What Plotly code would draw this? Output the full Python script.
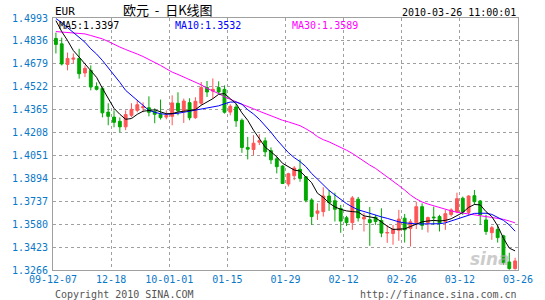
import plotly.graph_objects as go

# ---- data (EUR daily K-line, 2009-12-07 .. 2010-03-26, 80 trading days) ----
opens = [1.4853, 1.4816, 1.4675, 1.4711, 1.4716, 1.4616, 1.4634, 1.4524, 1.4511, 1.4348,
         1.4314, 1.4285, 1.4247, 1.4326, 1.4360, 1.4378, 1.4378, 1.4353, 1.4333, 1.4314,
         1.4319, 1.4409, 1.4357, 1.4413, 1.4310, 1.4409, 1.4516, 1.4492, 1.4516, 1.4504,
         1.4348, 1.4383, 1.4292, 1.4106, 1.4092, 1.4142, 1.4151, 1.4084, 1.4028, 1.3978,
         1.3855, 1.3912, 1.3956, 1.3905, 1.3746, 1.3655, 1.3666, 1.3773, 1.3741, 1.3688,
         1.3624, 1.3591, 1.3751, 1.3616, 1.3611, 1.3628, 1.3605, 1.3519, 1.3516, 1.3538,
         1.3621, 1.3551, 1.3589, 1.3700, 1.3591, 1.3629, 1.3632, 1.3598, 1.3646, 1.3664,
         1.3758, 1.3661, 1.3775, 1.3739, 1.3609, 1.3522, 1.3544, 1.3500, 1.3321, 1.3276]
highs = [1.4893, 1.4859, 1.4756, 1.4750, 1.4782, 1.4668, 1.4668, 1.4552, 1.4518, 1.4409,
         1.4360, 1.4312, 1.4360, 1.4409, 1.4429, 1.4415, 1.4456, 1.4374, 1.4434, 1.4360,
         1.4463, 1.4484, 1.4441, 1.4443, 1.4450, 1.4554, 1.4561, 1.4579, 1.4559, 1.4531,
         1.4402, 1.4406, 1.4304, 1.4178, 1.4190, 1.4197, 1.4174, 1.4106, 1.4042, 1.3985,
         1.3932, 1.3978, 1.4024, 1.3910, 1.3758, 1.3723, 1.3833, 1.3814, 1.3796, 1.3712,
         1.3637, 1.3773, 1.3767, 1.3657, 1.3698, 1.3644, 1.3689, 1.3575, 1.3575, 1.3678,
         1.3650, 1.3614, 1.3734, 1.3723, 1.3632, 1.3700, 1.3644, 1.3678, 1.3689, 1.3796,
         1.3769, 1.3778, 1.3814, 1.3746, 1.3644, 1.3568, 1.3575, 1.3507, 1.3384, 1.3350]
lows = [1.4750, 1.4668, 1.4634, 1.4682, 1.4577, 1.4588, 1.4497, 1.4497, 1.4312, 1.4258,
        1.4244, 1.4210, 1.4224, 1.4312, 1.4347, 1.4347, 1.4319, 1.4272, 1.4297, 1.4299,
        1.4258, 1.4326, 1.4274, 1.4292, 1.4302, 1.4395, 1.4452, 1.4441, 1.4475, 1.4338,
        1.4326, 1.4247, 1.4069, 1.4024, 1.4053, 1.4122, 1.4042, 1.3992, 1.3928, 1.3855,
        1.3838, 1.3882, 1.3871, 1.3730, 1.3575, 1.3609, 1.3632, 1.3671, 1.3598, 1.3521,
        1.3568, 1.3541, 1.3598, 1.3530, 1.3432, 1.3575, 1.3491, 1.3452, 1.3439, 1.3466,
        1.3454, 1.3427, 1.3546, 1.3541, 1.3523, 1.3575, 1.3530, 1.3541, 1.3632, 1.3655,
        1.3644, 1.3644, 1.3712, 1.3575, 1.3507, 1.3473, 1.3454, 1.3302, 1.3268, 1.3268]
closes = [1.4812, 1.4678, 1.4716, 1.4718, 1.4611, 1.4648, 1.4520, 1.4504, 1.4343, 1.4319,
          1.4278, 1.4247, 1.4331, 1.4367, 1.4399, 1.4385, 1.4347, 1.4333, 1.4310, 1.4326,
          1.4411, 1.4357, 1.4424, 1.4309, 1.4422, 1.4516, 1.4486, 1.4504, 1.4486, 1.4347,
          1.4388, 1.4288, 1.4106, 1.4094, 1.4135, 1.4152, 1.4076, 1.4021, 1.3974, 1.3859,
          1.3926, 1.3965, 1.3894, 1.3744, 1.3632, 1.3671, 1.3773, 1.3728, 1.3682, 1.3601,
          1.3591, 1.3760, 1.3623, 1.3627, 1.3591, 1.3598, 1.3519, 1.3523, 1.3546, 1.3615,
          1.3541, 1.3596, 1.3700, 1.3572, 1.3625, 1.3624, 1.3587, 1.3652, 1.3678, 1.3755,
          1.3664, 1.3773, 1.3734, 1.3644, 1.3530, 1.3556, 1.3488, 1.3316, 1.3276, 1.3328]

ma5 = [1.4975, 1.4900, 1.4839, 1.4770, 1.4725, 1.4679, 1.4634, 1.4586, 1.4511, 1.4443,
       1.4374, 1.4333, 1.4299, 1.4304, 1.4333, 1.4354, 1.4357, 1.4364, 1.4350, 1.4337,
       1.4338, 1.4349, 1.4354, 1.4361, 1.4365, 1.4395, 1.4417, 1.4440, 1.4470, 1.4475,
       1.4440, 1.4406, 1.4343, 1.4292, 1.4224, 1.4162, 1.4108, 1.4076, 1.4042, 1.3997,
       1.3971, 1.3951, 1.3944, 1.3905, 1.3864, 1.3792, 1.3764, 1.3725, 1.3698, 1.3682,
       1.3671, 1.3666, 1.3663, 1.3637, 1.3628, 1.3623, 1.3596, 1.3566, 1.3544, 1.3544,
       1.3548, 1.3564, 1.3579, 1.3596, 1.3602, 1.3606, 1.3602, 1.3606, 1.3617, 1.3637,
       1.3660, 1.3695, 1.3715, 1.3712, 1.3666, 1.3632, 1.3568, 1.3483, 1.3416, 1.3397]
ma10 = [1.4989, 1.4962, 1.4927, 1.4895, 1.4861, 1.4827, 1.4782, 1.4746, 1.4702, 1.4654,
        1.4600, 1.4552, 1.4497, 1.4463, 1.4429, 1.4395, 1.4360, 1.4347, 1.4337, 1.4333,
        1.4335, 1.4340, 1.4347, 1.4354, 1.4360, 1.4365, 1.4372, 1.4383, 1.4391, 1.4405,
        1.4417, 1.4417, 1.4402, 1.4364, 1.4335, 1.4299, 1.4258, 1.4210, 1.4159, 1.4111,
        1.4070, 1.4036, 1.4009, 1.3975, 1.3927, 1.3889, 1.3848, 1.3811, 1.3780, 1.3749,
        1.3721, 1.3698, 1.3678, 1.3667, 1.3654, 1.3640, 1.3630, 1.3620, 1.3606, 1.3596,
        1.3589, 1.3584, 1.3582, 1.3582, 1.3582, 1.3582, 1.3583, 1.3589, 1.3602, 1.3616,
        1.3632, 1.3643, 1.3654, 1.3655, 1.3655, 1.3647, 1.3626, 1.3606, 1.3575, 1.3532]
ma30 = [1.4900, 1.4897, 1.4895, 1.4893, 1.4891, 1.4884, 1.4873, 1.4862, 1.4850, 1.4832,
        1.4811, 1.4794, 1.4777, 1.4763, 1.4746, 1.4729, 1.4709, 1.4692, 1.4668, 1.4645,
        1.4622, 1.4606, 1.4588, 1.4572, 1.4554, 1.4535, 1.4511, 1.4494, 1.4475, 1.4453,
        1.4434, 1.4419, 1.4402, 1.4388, 1.4371, 1.4354, 1.4338, 1.4320, 1.4304, 1.4292,
        1.4281, 1.4268, 1.4255, 1.4234, 1.4210, 1.4180, 1.4159, 1.4144, 1.4125, 1.4110,
        1.4087, 1.4065, 1.4039, 1.4007, 1.3985, 1.3962, 1.3934, 1.3905, 1.3879, 1.3845,
        1.3814, 1.3780, 1.3753, 1.3732, 1.3718, 1.3705, 1.3693, 1.3681, 1.3671, 1.3662,
        1.3655, 1.3649, 1.3643, 1.3637, 1.3632, 1.3626, 1.3621, 1.3613, 1.3602, 1.3589]

y_ticks = [1.3266, 1.3423, 1.3580, 1.3737, 1.3894, 1.4051, 1.4208, 1.4365, 1.4522, 1.4679, 1.4836, 1.4993]
x_tick_pos = [-0.5, 9.5, 19.5, 29.5, 39.5, 49.5, 59.5, 69.5, 79.5]
x_tick_labels = ["09-12-07", "12-18", "10-01-01", "01-15", "01-29", "02-12", "02-26", "03-12", "03-26"]

x = list(range(len(closes)))

RED = "#FF5555"
GREEN = "#00A800"
TICK_BLUE = "#0A78C8"
MONO = "DejaVu Sans Mono"

fig = go.Figure()
fig.add_trace(go.Candlestick(
    x=x, open=opens, high=highs, low=lows, close=closes,
    increasing=dict(line=dict(color=RED, width=1), fillcolor=RED),
    decreasing=dict(line=dict(color=GREEN, width=1), fillcolor=GREEN),
    whiskerwidth=0, showlegend=False, hoverinfo="skip"))
fig.add_trace(go.Scatter(x=x, y=ma30, mode="lines", line=dict(color="#FF00FF", width=1),
                         showlegend=False, hoverinfo="skip"))
fig.add_trace(go.Scatter(x=x, y=ma10, mode="lines", line=dict(color="#0000FF", width=1),
                         showlegend=False, hoverinfo="skip"))
fig.add_trace(go.Scatter(x=x, y=ma5, mode="lines", line=dict(color="#000000", width=1),
                         showlegend=False, hoverinfo="skip"))

W, H = 545, 300
ML, MR, MT, MB = 49, 16, 18, 30
PW, PH = W - ML - MR, H - MT - MB

def px(xp):
    return (xp - ML) / PW

def py(yp):
    return (H - MB - yp) / PH

annos = [
    dict(text="EUR", x=px(49), y=py(11), xanchor="left", yanchor="middle",
         font=dict(family=MONO, size=11, color="#000000")),
    dict(text="欧元&nbsp;&nbsp;-&nbsp;&nbsp;日K线图", x=px(168), y=py(10), xanchor="center", yanchor="middle",
         font=dict(family="Noto Sans CJK SC", size=13, color="#000000")),
    dict(text="2010-03-26 11:00:01", x=px(529), y=py(12), xanchor="right", yanchor="middle",
         font=dict(family=MONO, size=10, color="#000000")),
    dict(text="MA5:1.3397", x=px(53), y=py(25), xanchor="left", yanchor="middle",
         font=dict(family=MONO, size=10, color="#000000")),
    dict(text="MA10:1.3532", x=px(173), y=py(25), xanchor="left", yanchor="middle",
         font=dict(family=MONO, size=10, color="#0000FF")),
    dict(text="MA30:1.3589", x=px(294), y=py(25), xanchor="left", yanchor="middle",
         font=dict(family=MONO, size=10, color="#FF00FF")),
    dict(text="Copyright 2010 SINA.COM", x=px(49), y=py(294.5), xanchor="left", yanchor="middle",
         font=dict(family=MONO, size=10, color="#555555")),
    dict(text="http://finance.sina.com.cn", x=px(530), y=py(294.5), xanchor="right", yanchor="middle",
         font=dict(family=MONO, size=10, color="#555555")),
    dict(text="<b><i>sina</i></b>", x=px(500), y=py(259), xanchor="center", yanchor="middle",
         font=dict(family="DejaVu Sans", size=17, color="rgba(170,170,170,0.6)")),
]
for a in annos:
    a.update(xref="paper", yref="paper", showarrow=False)

fig.update_layout(
    width=W, height=H,
    margin=dict(l=ML, r=MR, t=MT, b=MB, pad=0),
    paper_bgcolor="#FFFFFF", plot_bgcolor="#FFFFFF",
    annotations=annos,
    hovermode=False,
    xaxis=dict(range=[-0.5, 79.5], tickmode="array", tickvals=x_tick_pos, ticktext=x_tick_labels,
               showgrid=True, gridcolor="#A0A0A0", griddash="dot", gridwidth=1,
               showline=True, linecolor="#A0A0A0", linewidth=1, mirror=True,
               ticks="", zeroline=False, rangeslider=dict(visible=False),
               tickfont=dict(family=MONO, size=10, color=TICK_BLUE), ticklabelstandoff=0),
    yaxis=dict(range=[1.3266, 1.4993], tickmode="array", tickvals=y_ticks,
               ticktext=["%.4f" % v for v in y_ticks],
               showgrid=True, gridcolor="#A0A0A0", griddash="dot", gridwidth=1,
               showline=True, linecolor="#A0A0A0", linewidth=1, mirror=True,
               ticks="", zeroline=False,
               tickfont=dict(family=MONO, size=10, color=TICK_BLUE), ticklabelstandoff=2),
)

fig.write_html("out.html")
